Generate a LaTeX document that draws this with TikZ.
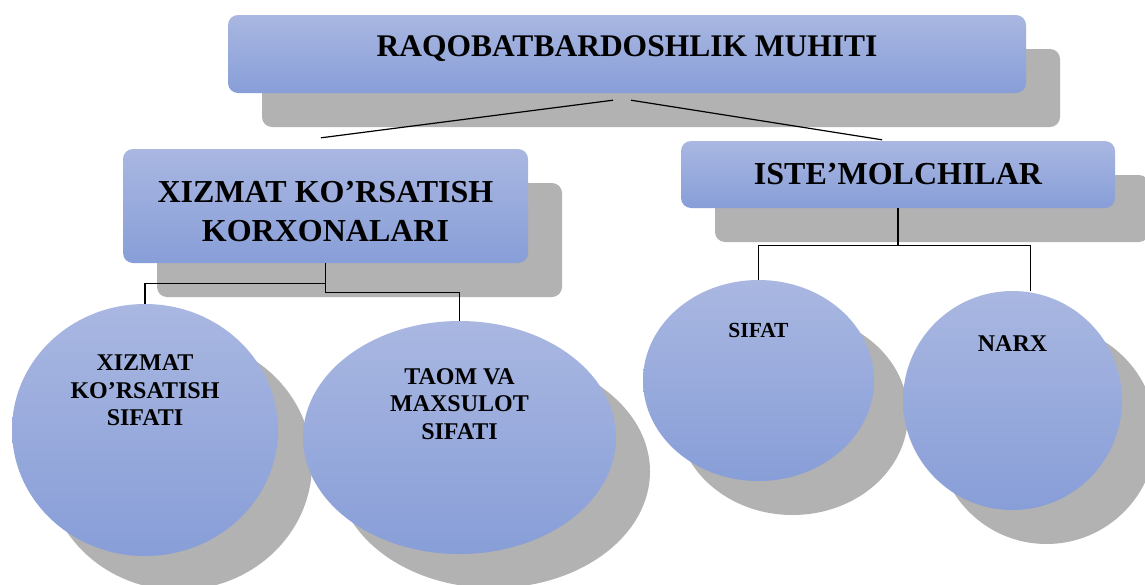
\documentclass[tikz,border=0pt]{standalone}
\usepackage{fontspec}
\setmainfont{Liberation Serif}
\usetikzlibrary{shapes.geometric, shadows}
\definecolor{boxTop}{HTML}{A9B7E1}
\definecolor{boxBottom}{HTML}{889ED8}
\definecolor{shadowGray}{HTML}{B2B2B2}
\tikzset{
  boxShade/.style={top color=boxTop, bottom color=boxBottom, inner sep=0pt,
                   drop shadow={shadow xshift=34pt, shadow yshift=-34pt,
                                opacity=1, fill=shadowGray}},
  boxM/.style={boxShade, rectangle, rounded corners=10pt, align=center,
               font=\bfseries\fontsize{32}{39}\selectfont},
  boxText/.style={align=center, font=\bfseries\fontsize{32}{39}\selectfont},
  oval/.style={boxShade, ellipse},
  ovalText/.style={align=center, font=\bfseries\fontsize{24}{27.5}\selectfont},
  link/.style={black, line width=1.2pt},
}
\begin{document}
\begin{tikzpicture}[x=1pt, y=-1pt]
  \useasboundingbox[fill=white] (0,0) rectangle (1145,584);
  % top level
  \node[boxM, minimum width=798pt, minimum height=78pt,
        label={[boxText, font=\bfseries\fontsize{31.5}{39}\selectfont, text depth=0pt,
                yshift=8pt]center:RAQOBATBARDOSHLIK MUHITI}] (top) at (627,54) {};
  % second level
  \node[boxM, minimum width=405pt, minimum height=114pt,
        label={[boxText, yshift=-5.5pt]center:XIZMAT KO’RSATISH\\KORXONALARI}] (left) at (325.5,206) {};
  \node[boxM, minimum width=434pt, minimum height=67pt] (right) at (898,174.5)
    {ISTE’MOLCHILAR};
  % ovals
  \node[oval, minimum width=266pt, minimum height=252pt,
        label={[ovalText, yshift=39.5pt]center:XIZMAT\\KO’RSATISH\\SIFATI}] (e1) at (145,430) {};
  \node[oval, minimum width=313pt, minimum height=233pt,
        label={[ovalText, yshift=33.5pt]center:TAOM VA\\MAXSULOT\\SIFATI}] (e2) at (459.5,437.5) {};
  \node[oval, minimum width=231pt, minimum height=201pt,
        label={[ovalText, font=\bfseries\fontsize{21.5}{26}\selectfont, yshift=50.5pt]center:SIFAT}] (sifat) at (758.5,380.5) {};
  \node[oval, minimum width=219pt, minimum height=219pt,
        label={[ovalText, yshift=56.5pt]center:NARX}] (narx) at (1012.5,400.5) {};
  % connectors
  \draw[link] ([xshift=-14pt,yshift=-7pt]top.south) -- ([xshift=-4.5pt,yshift=11pt]left.north);
  \draw[link] ([xshift=4pt,yshift=-7pt]top.south) -- ([xshift=-16pt,yshift=1pt]right.north);
  \draw[link] (left.south) -- ++(0,29) -| (e2.north);
  \draw[link] ([yshift=-20pt]left.south) -| (e1.north);
  \draw[link] (right.south) -- ++(0,37) -| (sifat.north);
  \draw[link] ([yshift=-37pt]right.south) -| ([xshift=18pt]narx.north);
\end{tikzpicture}
\end{document}
